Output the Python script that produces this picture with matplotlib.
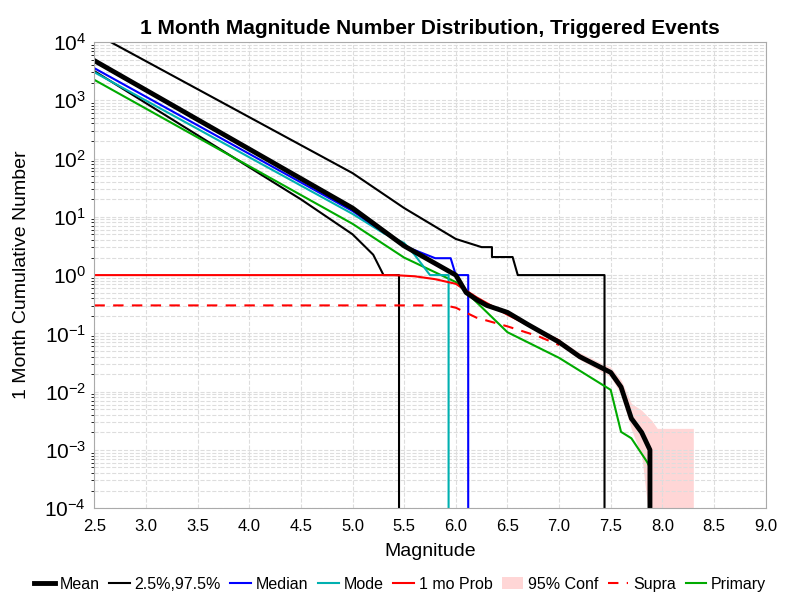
import numpy as np
import matplotlib
matplotlib.use("Agg")
import matplotlib.pyplot as plt

plt.rcParams['font.family'] = ['Liberation Sans', 'DejaVu Sans']

# log10 values
mean_m = [2.5, 5.0, 5.5, 6.0, 6.1, 6.2, 6.3, 6.5, 6.7, 6.9, 7.0, 7.2, 7.4, 7.5, 7.6, 7.7, 7.8, 7.88, 7.88]
mean_l = [3.68, 1.15, 0.5, 0.0, -0.3, -0.42, -0.52, -0.64, -0.85, -1.05, -1.15, -1.4, -1.58, -1.67, -1.92, -2.46, -2.7, -3.0, -4.6]

hi_m = [2.5, 5.0, 5.5, 6.0, 6.25, 6.25, 6.35, 6.35, 6.55, 6.6, 7.44, 7.44]
hi_l = [4.15, 1.75, 1.15, 0.62, 0.48, 0.48, 0.48, 0.31, 0.31, 0.0, 0.0, -4.6]

lo_m = [2.5, 4.5, 5.0, 5.2, 5.3, 5.45, 5.45]
lo_l = [3.5, 1.3, 0.7, 0.35, 0.0, 0.0, -4.6]

med_m = [2.5, 5.0, 5.5, 5.8, 5.85, 5.95, 6.0, 6.12, 6.12]
med_l = [3.55, 1.1, 0.5, 0.29, 0.29, 0.29, 0.0, 0.0, -4.6]

mode_m = [2.5, 5.0, 5.3, 5.5, 5.6, 5.75, 5.93, 5.93]
mode_l = [3.48, 1.05, 0.72, 0.55, 0.35, 0.0, 0.0, -4.6]

prob_m = [2.5, 5.4, 5.6, 5.8, 6.0, 6.2, 6.5, 6.8, 7.0]
prob_l = [0.0, 0.0, -0.02, -0.07, -0.15, -0.38, -0.68, -0.95, -1.12]

supra_m = [2.5, 5.9, 6.0, 6.2, 6.5, 6.8, 7.0]
supra_l = [-0.52, -0.52, -0.56, -0.73, -0.88, -1.05, -1.2]

prim_m = [2.5, 5.0, 5.5, 6.0, 6.5, 7.0, 7.5, 7.6, 7.7, 7.85, 7.88, 7.88]
prim_l = [3.35, 0.88, 0.3, -0.12, -0.98, -1.42, -1.97, -2.69, -2.8, -3.2, -3.3, -4.6]

conf_m = [7.0, 7.2, 7.4, 7.5, 7.6, 7.7, 7.8, 7.9, 7.95, 8.3]
conf_hi = [-1.1, -1.33, -1.5, -1.58, -1.8, -2.2, -2.32, -2.5, -2.63, -2.63]
conf_lo = [-1.2, -1.45, -1.65, -1.75, -2.05, -2.65, -3.1, -4.6, -4.6, -4.6]

fig, ax = plt.subplots(figsize=(8, 6), dpi=100)
fig.subplots_adjust(left=0.118, right=0.957, top=0.93, bottom=0.153)

p = lambda v: 10 ** np.array(v)
ax.fill_between(conf_m, p(conf_lo), p(conf_hi), color='#ffd6d6', lw=0, label='95% Conf')
ax.plot(hi_m, p(hi_l), color='black', lw=1.5, label='2.5%,97.5%')
ax.plot(lo_m, p(lo_l), color='black', lw=1.5)
ax.plot(prim_m, p(prim_l), color='#00aa00', lw=1.5, label='Primary')
ax.plot(mode_m, p(mode_l), color='#00b0b0', lw=1.5, label='Mode')
ax.plot(med_m, p(med_l), color='blue', lw=1.5, label='Median')
ax.plot(prob_m, p(prob_l), color='red', lw=1.5, label='1 mo Prob')
ax.plot(supra_m, p(supra_l), color='red', lw=1.5, ls=(0, (5, 4)), label='Supra')
ax.plot(mean_m, p(mean_l), color='black', lw=3.5, label='Mean')

ax.set_yscale('log')
ax.set_xlim(2.5, 9.0)
ax.set_ylim(1e-4, 1e4)
ax.set_xticks(np.arange(2.5, 9.01, 0.5))
ax.set_xticklabels([f"{v:.1f}" for v in np.arange(2.5, 9.01, 0.5)], fontsize=12)
ax.tick_params(axis='y', labelsize=15, pad=6)
ax.tick_params(axis='x', pad=8)
ax.tick_params(length=0)
ax.grid(True, which='both', ls='--', color='#dddddd', lw=0.8)
for s in ax.spines.values():
    s.set_color('#aaaaaa')
ax.set_xlabel('Magnitude', fontsize=14, labelpad=6)
ax.set_ylabel('1 Month Cumulative Number', fontsize=14, labelpad=10)
ax.set_title('1 Month Magnitude Number Distribution, Triggered Events', fontsize=15, fontweight='bold')

h, l = ax.get_legend_handles_labels()
order = ['Mean', '2.5%,97.5%', 'Median', 'Mode', '1 mo Prob', '95% Conf', 'Supra', 'Primary']
hd = dict(zip(l, h))
fig.legend([hd[k] for k in order], order, loc='lower center', ncol=8, frameon=False,
           fontsize=11.5, handlelength=1.3, handletextpad=0.3, columnspacing=0.6,
           bbox_to_anchor=(0.5, -0.01))
fig.savefig('out.png')
